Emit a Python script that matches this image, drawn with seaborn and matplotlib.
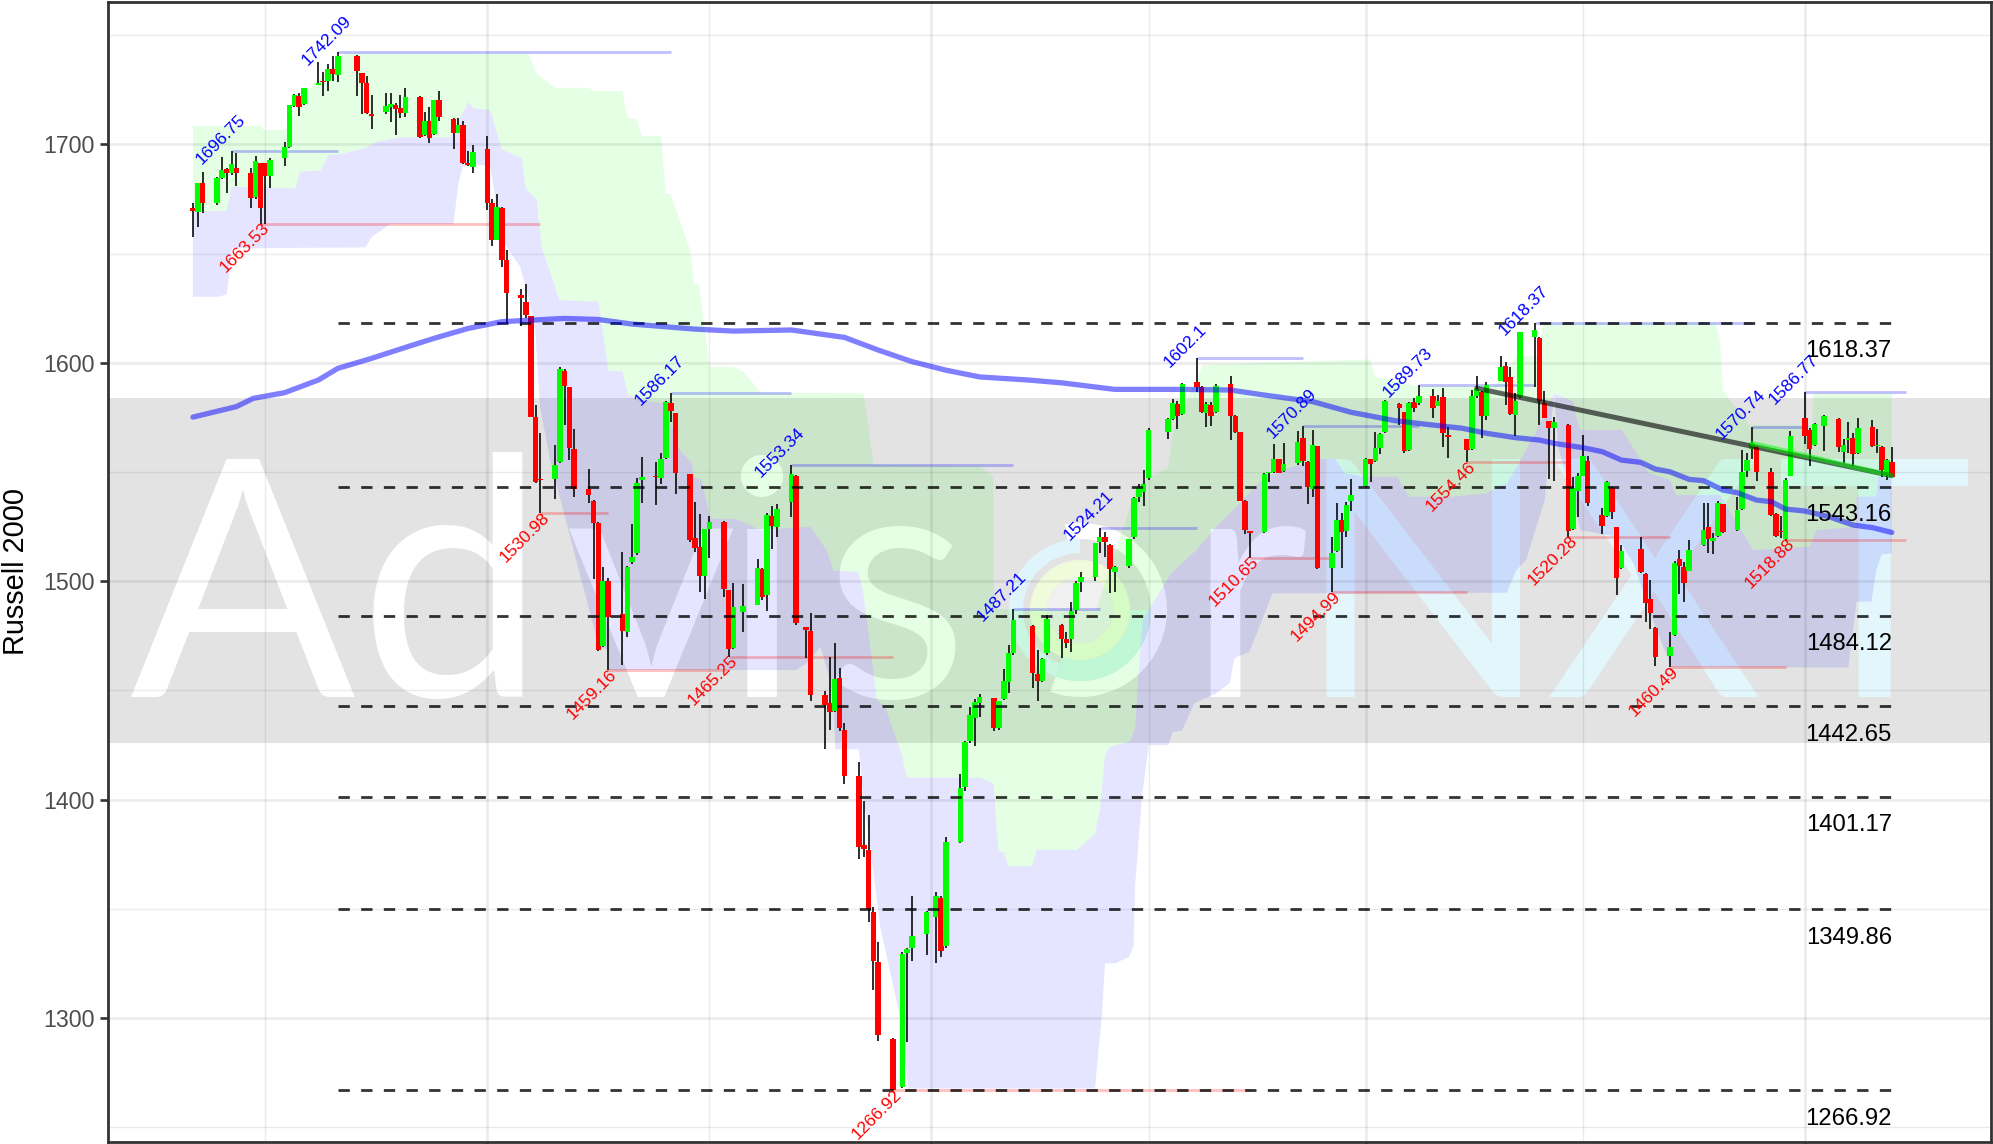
import matplotlib
matplotlib.use("Agg")
import matplotlib.pyplot as plt
from matplotlib.patches import Wedge
from matplotlib.transforms import IdentityTransform
import numpy as np
import pandas as pd
import seaborn as sns

HOLIDAYS = ['2018-09-03', '2018-11-22', '2018-12-05', '2018-12-25', '2019-01-01', '2019-01-21',
            '2019-02-18', '2019-04-19', '2019-05-27', '2019-07-04']
ORIGIN = pd.Timestamp('2018-10-01')

# one line per trading week, Aug 2018 - Jul 2019
opens = [
    1670.8, 1669, 1682.1,
    1673, 1684.7, 1688.7, 1686.7, 1689.3,
    1686.7, 1676, 1691.4, 1691.4, 1685.5,
    1693.9, 1698.9, 1717.5, 1722.1, 1718.5,
    1727.3, 1729, 1729, 1734.3, 1731.6,
    1740.6, 1732.5, 1727.9, 1713.9,
    1714.8, 1717.2, 1717.8, 1716.8, 1714.2,
    1721.7, 1704.3, 1710.8, 1704.7, 1720.1,
    1711.6, 1705.3, 1708.8, 1691.6, 1689.8,
    1697.7, 1673, 1656.2, 1671, 1647,
    1631, 1627.9, 1621.4, 1575, 1546.6,
    1546.7, 1554.4, 1596.3, 1588.7, 1560.5,
    1542.2, 1536.8, 1526.4, 1470.4, 1500,
    1484.9, 1476.8, 1508.7, 1512.7, 1546.1,
    1548.1, 1547, 1556.2, 1581.4, 1576.8,
    1548.9, 1519.7, 1515.8, 1502.5, 1523.8,
    1527.2, 1495.9, 1469.5, 1485.8,
    1489, 1505.4, 1493.6, 1529.8, 1524.9,
    1536.4, 1548.1, 1478.8, 1477.3,
    1448, 1444, 1440.5, 1455.5, 1431.8,
    1410.8, 1379.3, 1376.9, 1348.5, 1325.7,
    1290.3, 1268.2, 1329.7, 1332.1,
    1338.4, 1346, 1354.7, 1333,
    1380.7, 1405.9, 1426.9, 1437.2, 1444.3,
    1446.3, 1432.9, 1446, 1454, 1466.9,
    1479.6, 1457.5, 1454.3, 1466.9,
    1480, 1473.3, 1473.5, 1486.8, 1499.6,
    1502, 1518, 1520, 1516.5, 1504.3,
    1506.9, 1520, 1538.4, 1541, 1547,
    1568.4, 1574.2, 1581.1, 1576.4,
    1591.3, 1588.7, 1577.1, 1580.6, 1577.6,
    1590.1, 1575.6, 1568.3, 1536.7, 1522.6,
    1522.6, 1549.4, 1550, 1555.8, 1550.4,
    1553.9, 1565.4, 1554.7, 1542, 1561.9,
    1505.8, 1513.8, 1528, 1523, 1536.7,
    1543.5, 1555.8, 1555, 1561.1, 1568.4,
    1581.1, 1577.3, 1559.9, 1581.9, 1581.4,
    1584.9, 1580.2, 1584.2, 1566.9,
    1565.1, 1560.5, 1584.9, 1586.7, 1575.6,
    1591.8, 1598.5, 1593.3, 1576.1, 1584.5,
    1611.6, 1611.3, 1581.4, 1573.2, 1570.3,
    1571.5, 1523.7, 1541.4, 1548.3, 1555,
    1530.3, 1529.8, 1542.5, 1524.9, 1505.8,
    1514.9, 1503.3, 1491.6, 1478.4,
    1465.7, 1475.3, 1510, 1506.3, 1504.8,
    1516.5, 1524.9, 1518.5, 1520.6, 1535.3,
    1523.4, 1533, 1550.4, 1560.5, 1561.5,
    1549.8, 1530.6, 1523.1, 1519.3, 1548.3,
    1574.5, 1569.2, 1562.2, 1571.2,
    1574.1, 1559, 1564.8, 1565.4, 1558.5,
    1570.5, 1561.7, 1561.5, 1548.6, 1554.7,
]
highs = [
    1673, 1682.5, 1687.2,
    1685, 1694.4, 1689.3, 1696.75, 1695.9,
    1689, 1694.8, 1691.5, 1691.5, 1693.6,
    1700.9, 1718, 1723, 1723.3, 1726,
    1737.5, 1733.3, 1736.8, 1740.6, 1742.09,
    1740.8, 1732.7, 1731.3, 1722.6,
    1723.6, 1723.3, 1718.8, 1722.6, 1725.9,
    1722.1, 1715, 1716.9, 1720.5, 1724.4,
    1712, 1711.9, 1710.7, 1697, 1699.7,
    1703.8, 1674.8, 1677.1, 1671.2, 1651.6,
    1633.8, 1635.9, 1621.6, 1580.6, 1567.7,
    1562.3, 1597.9, 1597, 1589, 1569.6,
    1551.2, 1537, 1527, 1506.6, 1501.3,
    1513.2, 1507, 1526.1, 1547, 1557,
    1554.4, 1558.8, 1582.5, 1586.17, 1577,
    1549, 1536.4, 1530.6, 1524, 1529.8,
    1527.5, 1496, 1499.3, 1498.5,
    1510.1, 1506, 1531, 1534.5, 1535.1,
    1553.34, 1548.5, 1479, 1485.5,
    1449.8, 1465.4, 1471.5, 1460.4, 1435.2,
    1417, 1399.3, 1392.9, 1350.6, 1334.6,
    1290.6, 1330.3, 1332, 1356,
    1349, 1357.5, 1356, 1383,
    1411.7, 1427, 1442.2, 1446, 1448.1,
    1446.5, 1445.2, 1460, 1470.7, 1487.21,
    1480, 1468.4, 1465, 1484.5,
    1480.5, 1476.8, 1490.3, 1500, 1504.3,
    1517.5, 1524.21, 1522.6, 1516.8, 1507,
    1519.5, 1538.5, 1544.5, 1550.9, 1570,
    1574.5, 1583.2, 1582.6, 1590.5,
    1602.1, 1589.3, 1581.9, 1581.9, 1590.1,
    1594.1, 1576, 1568.5, 1537, 1523,
    1549.5, 1549.9, 1562.6, 1556, 1563.4,
    1568.7, 1570.89, 1555, 1569.2, 1562,
    1520.3, 1535.6, 1531, 1536.4, 1546.7,
    1556.2, 1556, 1568.4, 1568, 1583,
    1581.5, 1577.5, 1582, 1583.7, 1589.73,
    1588, 1585.2, 1588.6, 1570.7,
    1565.3, 1587.5, 1594.1, 1587, 1591,
    1603, 1600.2, 1598, 1586, 1614,
    1618.37, 1612, 1587.2, 1573.5, 1575,
    1572, 1547.8, 1549.7, 1566.9, 1557.3,
    1533.3, 1545.8, 1543, 1525, 1516.5,
    1520.3, 1503.5, 1500.5, 1479,
    1476.5, 1509, 1514.2, 1508.9, 1518.8,
    1535.6, 1536, 1521.9, 1536.5, 1535.5,
    1538.7, 1560, 1558.5, 1570.74, 1562,
    1551.6, 1531, 1530, 1547, 1568.7,
    1586.77, 1570, 1572.5, 1576,
    1574.5, 1564.9, 1572.7, 1567.7, 1574.5,
    1573.8, 1569.5, 1562, 1556, 1561.5,
]
lows = [
    1657.7, 1662.3, 1668.4,
    1672, 1684, 1677.9, 1686, 1680.9,
    1670.7, 1675, 1663.53, 1663.6, 1679.8,
    1690.2, 1698.5, 1717, 1713, 1718,
    1727, 1722.3, 1724.6, 1729, 1728.4,
    1722.3, 1713.7, 1714, 1706.9,
    1714, 1710.4, 1704.1, 1711.9, 1712.7,
    1702.7, 1704, 1700.4, 1704.5, 1710.8,
    1697.8, 1705, 1691, 1690, 1687,
    1669.9, 1653.4, 1656, 1643.7, 1618.3,
    1616.8, 1620.5, 1575, 1545, 1530.98,
    1537.4, 1554, 1571.5, 1555.4, 1538.7,
    1535.6, 1501, 1468, 1470, 1459.16,
    1461.6, 1474.5, 1508, 1512, 1535.9,
    1534.8, 1544.5, 1556, 1573, 1539.9,
    1518, 1513.5, 1494.8, 1491.6, 1510.4,
    1492.9, 1465.25, 1469, 1476.8,
    1489, 1491.3, 1486.5, 1514.5, 1520,
    1529.5, 1479.9, 1465, 1445,
    1423, 1431.8, 1440, 1431.5, 1407.1,
    1372.8, 1373.8, 1344, 1313, 1289.6,
    1266.92, 1268, 1289.1, 1326.2,
    1329, 1325, 1328, 1332,
    1380, 1404, 1426, 1424.6, 1437.6,
    1431.4, 1432, 1445.5, 1448.6, 1466,
    1451.2, 1445.1, 1454, 1466,
    1464.6, 1469.2, 1467.7, 1484.8, 1495.2,
    1500, 1512.7, 1511.2, 1494.4, 1495.2,
    1505.8, 1519.5, 1536.1, 1534.5, 1546.5,
    1564.9, 1574, 1569.5, 1576,
    1586.7, 1577, 1570.7, 1571.2, 1577,
    1564.6, 1568, 1536.5, 1521.6, 1510.65,
    1522, 1545.5, 1549.5, 1549.3, 1550.1,
    1553.2, 1552.7, 1535.3, 1538.7, 1505.5,
    1494.99, 1513.5, 1505.8, 1520, 1532.2,
    1543, 1545.5, 1554.5, 1558.2, 1568,
    1571.5, 1558.5, 1559.5, 1577.6, 1580.6,
    1574.8, 1580, 1561.6, 1556.2,
    1554.46, 1560, 1583.7, 1565.4, 1574,
    1591.5, 1580.6, 1576, 1566.6, 1584,
    1589, 1571.5, 1574.5, 1546.6, 1546,
    1520.28, 1523.5, 1529.5, 1548, 1534.4,
    1521.6, 1529.5, 1528.3, 1493.6, 1505.5,
    1503.5, 1481.4, 1478.1, 1461.3,
    1460.49, 1475, 1494, 1490.6, 1504.5,
    1516, 1513, 1512.4, 1520, 1522,
    1523, 1532.5, 1547.8, 1555.9, 1546,
    1530, 1520.3, 1519.6, 1518.88, 1548,
    1562.8, 1552.9, 1562, 1559.7,
    1559.3, 1554.2, 1558.5, 1552.7, 1558,
    1561.5, 1558.5, 1547.8, 1546.3, 1547.5,
]
closes = [
    1669.3, 1682.1, 1673.3,
    1684.4, 1688.2, 1687, 1691, 1686.7,
    1675.3, 1692.4, 1670.7, 1685.6, 1692.8,
    1698.6, 1717.8, 1722.6, 1717.2, 1725.6,
    1728.2, 1728.5, 1734.5, 1732.3, 1740.6,
    1733.6, 1727.9, 1714.2, 1713.1,
    1717.5, 1718.3, 1716, 1714.5, 1721.5,
    1703.5, 1710.8, 1703, 1720.1, 1712.4,
    1705.3, 1708.8, 1691.6, 1690.5, 1696.3,
    1673, 1656.2, 1671.1, 1647, 1632,
    1629.6, 1621.8, 1575.3, 1545.5, 1546.1,
    1553, 1597, 1589.5, 1560.8, 1542.2,
    1539.4, 1526.7, 1468.4, 1500.2, 1483.7,
    1477.3, 1506.6, 1511.2, 1544.8, 1547.8,
    1547.7, 1555.9, 1582, 1578, 1549.6,
    1518.8, 1515, 1502.5, 1523.8, 1527.2,
    1496.4, 1468.9, 1488, 1488.6,
    1505.8, 1492.9, 1530.3, 1525.4, 1533,
    1548.9, 1480.7, 1477.6, 1447.8,
    1443.4, 1440.2, 1455.2, 1432.6, 1410.8,
    1378.2, 1377.3, 1349.7, 1326, 1292.2,
    1267, 1329.5, 1331.7, 1337.6,
    1348.3, 1355.8, 1330.8, 1380.4,
    1405.1, 1426.5, 1438.7, 1444.8, 1447.1,
    1432.9, 1445, 1454.4, 1466.9, 1482.2,
    1457.8, 1454.4, 1464.3, 1482.6,
    1473.5, 1471.5, 1486.5, 1499.3, 1501.7,
    1517.3, 1520, 1517.9, 1505.5, 1506.3,
    1519.1, 1538.2, 1542.5, 1544.5, 1569.2,
    1574.2, 1581.4, 1575.6, 1590.1,
    1588.7, 1577.6, 1581.1, 1575.6, 1589.5,
    1575.6, 1568.4, 1536.8, 1523.4, 1522.2,
    1548.9, 1549.7, 1555.8, 1549.6, 1553.5,
    1563.8, 1555, 1543, 1562.3, 1505.8,
    1512.7, 1528, 1522.3, 1534.8, 1539.4,
    1555.8, 1553.5, 1560.8, 1567.4, 1582.5,
    1579.1, 1559.7, 1581.4, 1579.4, 1584.8,
    1579.4, 1582.6, 1567.7, 1565.8,
    1560, 1584.9, 1588, 1575.6, 1589.6,
    1598.2, 1591.3, 1576.4, 1582.5, 1613.9,
    1615, 1582.6, 1574.8, 1570.3, 1572.9,
    1523.1, 1542.5, 1548.1, 1557.3, 1535.6,
    1525.2, 1545.2, 1531.5, 1501.6, 1513.9,
    1504, 1490.1, 1485.5, 1465.4,
    1469.7, 1508.4, 1506.9, 1499.3, 1514.2,
    1523.4, 1519.1, 1519.7, 1535.9, 1522.3,
    1532.5, 1550.1, 1555.4, 1563.4, 1549.8,
    1530.3, 1520.8, 1522.3, 1546.3, 1566.4,
    1566.6, 1560.5, 1571.9, 1575.6,
    1561.5, 1562.3, 1565, 1558, 1569.9,
    1562, 1562, 1550.9, 1555.4, 1547.8,
]

# long moving average, days counted from 2018-10-01
sma_days = [-61, -52, -48.5, -42, -35, -31, -24, -17, -11, -4, 3, 16, 23, 30, 43, 51, 63, 74, 81, 88, 95, 102,
            112, 119, 130, 144, 154, 161, 171, 179, 188, 195, 202, 207, 213, 218, 221, 227, 231, 235, 239, 242,
            245, 249, 252, 256, 259, 263, 266, 269, 273, 278, 283, 287, 291]
sma_vals = [1575.1, 1579.9, 1583.7, 1586.3, 1592.1, 1597.4, 1602, 1607, 1611.2, 1615.7, 1618.8, 1620.3, 1619.8,
            1617.7, 1615.4, 1614.5, 1615, 1611.6, 1605.8, 1600.5, 1596.6, 1593.5, 1592.1, 1590.8, 1587.8, 1587.8,
            1587.5, 1585.2, 1582.2, 1577.3, 1573.5, 1571.7, 1570, 1567.7, 1565.7, 1564.6, 1563.1, 1561.1, 1559.3,
            1555.4, 1554.4, 1551.3, 1550.1, 1546.6, 1546, 1541.7, 1540.5, 1537.1, 1536.4, 1533, 1532.1, 1529.5,
            1525.7, 1524.5, 1522.3]

# cloud outlines: top of green, shared edge, bottom of blue
top_days = [-61, -46.7, -46.4, -42, -38, -30.5, -29.8, 8.5, 10.2, 14, 20.9, 22.3, 28, 29, 31, 32, 36, 37, 38, 42,
            42.9, 43.9, 46, 51, 53, 56.8, 77.9, 79, 80, 102, 104.8, 105, 126.2, 134.5, 136.6, 141, 142.1, 148.3,
            182.9, 184, 192.6, 208.5, 213.4, 217.5, 218.9, 254.4, 255.4, 256, 258, 261.6, 274.6, 274.7, 291]
top_vals = [1708.4, 1708.4, 1706.6, 1706.6, 1723.3, 1738.6, 1741.7, 1741.6, 1732.5, 1725.9, 1725.9, 1724.4, 1724.4,
            1712.2, 1711.4, 1703.8, 1703.8, 1677.5, 1677.2, 1651.6, 1636, 1635.6, 1598.2, 1597.9, 1595.9, 1586.3,
            1586, 1570.7, 1553.3, 1552.7, 1547.8, 1487.2, 1486.8, 1543.2, 1547, 1551.6, 1569.2, 1599, 1601.5,
            1593.6, 1589.3, 1589, 1602.8, 1603, 1618, 1618.3, 1610.4, 1587.5, 1581.4, 1571.5, 1571.5, 1586, 1586]

mid_days = [-61, -54, -53, -39.8, -38.8, -34.6, -32.9, -29.8, -25.3, -22.9, -18, -7.7, -3.9, -2.9, 0.6, 3, 7.1, 8,
            10.2, 11.3, 13.7, 14.9, 23, 25.1, 28, 29.2, 31.6, 36.5, 39.9, 42.4, 42.7, 44.4, 46.2, 51.7, 56.5, 66.9,
            70.3, 71.7, 76.9, 77.9, 79, 80.7, 82.4, 85.9, 86.9, 102.1, 104.9, 105.9, 107, 108, 112.9, 113.8, 122.1,
            125.9, 126.9, 128, 129, 133.2, 134.2, 135.1, 135.8, 141.7, 146.9, 151, 154.5, 160.8, 164.9, 171.8,
            175.6, 177.6, 181.6, 188.5, 190.9, 200.2, 207, 211.3, 213.7, 217.5, 221, 225.1, 225.4, 226.5, 235.1,
            240.6, 245.1, 246.3, 255.4, 262.3, 274, 275.4, 283.6, 283.7, 287.8, 288.2, 291]
mid_vals = [1669.2, 1669.6, 1680.6, 1679.8, 1687.5, 1688, 1695.1, 1695.9, 1698.2, 1701.2, 1703.2, 1703.2, 1719.5,
            1716.5, 1715.7, 1697.8, 1693.6, 1679.8, 1674.5, 1652.4, 1637.1, 1628.7, 1627.9, 1596.3, 1596, 1585.2,
            1583, 1581.4, 1560, 1553.9, 1547.8, 1546.3, 1528.7, 1528.3, 1523.4, 1524.9, 1514.2, 1504.8, 1504.3,
            1494.4, 1476, 1445.5, 1442.5, 1420.4, 1410, 1410, 1407.4, 1376.1, 1376.1, 1369.5, 1369.5, 1376.9,
            1376.9, 1384.2, 1395.2, 1420.4, 1424.2, 1426.5, 1432.6, 1463.9, 1482.2, 1503.6, 1514.2, 1524.9, 1532.6,
            1547, 1550.9, 1555.7, 1556.2, 1549.4, 1547.8, 1547.8, 1538.7, 1538.7, 1540.2, 1544.8, 1553.9, 1569.2,
            1586, 1582.2, 1576.8, 1569.2, 1569.2, 1549.5, 1546.3, 1539.4, 1539.4, 1514.2, 1515.8, 1523.4, 1524.8,
            1538.7, 1538.7, 1547.8, 1548.6]

low_days = [-61, -55.7, -54, -52.9, -25.3, -23.9, -20.1, -7, -6, -4.9, 0.6, 3, 6.8, 8.5, 9.9, 10.9, 13, 23.1, 25.1,
            25.2, 64, 66.5, 69, 71, 71.7, 72.1, 77, 77.9, 80, 81.4, 85.5, 87.2, 125.9, 127.3, 128, 130.1, 133, 133.9,
            134.2, 135.6, 137, 141.1, 142, 143.9, 146.5, 151, 153.8, 154.8, 157.9, 160, 162.7, 211.2, 213.2, 215.2,
            219.1, 221, 222, 224.4, 226.5, 234, 237.5, 241, 242, 245.4, 282, 283.7, 286.8, 287.8, 288.9, 291]
low_vals = [1630.2, 1630.2, 1631.3, 1652.4, 1652.8, 1657.7, 1663.5, 1663.5, 1682.1, 1691.3, 1690.1, 1656.2, 1644,
            1630.2, 1616.5, 1580, 1555.4, 1470, 1468.4, 1459.3, 1459.3, 1463, 1470, 1455, 1445.5, 1423, 1423, 1401.3,
            1366.2, 1341.8, 1300.5, 1267.7, 1267.7, 1300.5, 1325, 1325, 1328, 1332.9, 1360, 1399.8, 1424.9, 1424.9,
            1431, 1431.5, 1444.1, 1448.6, 1453.2, 1464.7, 1467.7, 1479.2, 1494.4, 1494.7, 1505.1, 1509.6, 1537.1,
            1586, 1560, 1543.2, 1523.4, 1520.3, 1508.1, 1485.2, 1479, 1460.8, 1460.4, 1490.6, 1490.6, 1505.1, 1512.2,
            1512.7]

fib_levels = [1618.37, 1543.16, 1484.12, 1442.65, 1401.17, 1349.86, 1266.92]
fib_labels = ['1618.37', '1543.16', '1484.12', '1442.65', '1401.17', '1349.86', '1266.92']

peak_dates = ['2018-08-09', '2018-08-31', '2018-11-08', '2018-12-03', '2019-01-18', '2019-02-05', '2019-02-25',
              '2019-03-19', '2019-04-12', '2019-05-06', '2019-06-20', '2019-07-01']
peak_vals = [1696.75, 1742.09, 1586.17, 1553.34, 1487.21, 1524.21, 1602.1, 1570.89, 1589.73, 1618.37, 1570.74, 1586.77]
trough_dates = ['2018-08-15', '2018-10-12', '2018-10-26', '2018-11-20', '2018-12-24', '2019-03-08', '2019-03-25',
                '2019-04-22', '2019-05-13', '2019-06-03', '2019-06-27']
trough_vals = [1663.53, 1530.98, 1459.16, 1465.25, 1266.92, 1510.65, 1494.99, 1554.46, 1520.28, 1460.49, 1518.88]
level_end = '2019-07-22'

trend_dates = ['2019-04-24', '2019-07-19']
trend_vals = [1588.3, 1548.3]
short_trend_dates = ['2019-06-20', '2019-07-19']
short_trend_vals = [1563.1, 1548.3]

# watermark letters: letter, centre x in px
white_letters = [('A', 243), ('d', 452), ('v', 650), ('i', 761), ('s', 896), ('r', 1247)]
cyan_letters = [('N', 1423), ('X', 1654), ('T', 1874)]

W, H = 1993, 1144


def to_dates(days):
    return ORIGIN + pd.to_timedelta(np.array(days, dtype=float), unit='D')


def draw_watermark(ax, fig):
    """Big AdvisorNXT text and the ring logo, under the clouds."""
    for letters, colour in [(white_letters, 'white'), (cyan_letters, '#e2f6fc')]:
        for letter, x in letters:
            ax.text(x / W, (H - 697) / H, letter, transform=fig.transFigure, color=colour, fontsize=240,
                    family='Lato', weight='normal', ha='center', va='baseline', zorder=1.2)
    centre = (1080, H - 610)
    rings = [(87, 71, 250, 100, 'white'), (71, 57, 90, 250, '#e0f5fb'), (71, 50, 250, 360, '#d6f8ee'),
             (50, 33, 0, 360, '#f0fbdc'), (33, 0, 0, 360, '#f0f0f0')]
    for outer, inner, a0, a1, colour in rings:
        ax.add_patch(Wedge(centre, outer, a0, a1, width=outer - inner, facecolor=colour, edgecolor='none',
                           transform=IdentityTransform(), zorder=1.3, clip_on=False))


def draw_grid(ax):
    for v in [1300, 1400, 1500, 1600, 1700]:
        ax.axhline(v, color='black', alpha=0.08, lw=1.9, zorder=1.6)
    for v in [1250, 1350, 1450, 1550, 1650, 1750]:
        ax.axhline(v, color='black', alpha=0.08, lw=1.0, zorder=1.6)
    for d in ['2018-10-01', '2019-01-01', '2019-04-01', '2019-07-01']:
        ax.axvline(pd.Timestamp(d), color='black', alpha=0.08, lw=1.9, zorder=1.6)
    for d in ['2018-08-16', '2018-11-16', '2019-02-15', '2019-05-16']:
        ax.axvline(pd.Timestamp(d), color='black', alpha=0.08, lw=1.0, zorder=1.6)


def draw_clouds(ax):
    green_x = list(to_dates(top_days)) + list(to_dates(mid_days))[::-1]
    green_y = top_vals + mid_vals[::-1]
    blue_x = list(to_dates(mid_days)) + list(to_dates(low_days))[::-1]
    blue_y = mid_vals + low_vals[::-1]
    ax.fill(green_x, green_y, color=(0, 1, 0, 0.1), lw=0, zorder=2)
    ax.fill(blue_x, blue_y, color=(0, 0, 1, 0.1), lw=0, zorder=2)


def draw_candles(ax, df):
    ax.vlines(df['date'], df['low'], df['high'], color='black', lw=1.15, zorder=3.5)
    up = df['close'] >= df['open']
    bottoms = df[['open', 'close']].min(axis=1)
    heights = (df['close'] - df['open']).abs().clip(lower=0.6)
    ax.bar(df['date'], heights, bottom=bottoms, width=1.15, color=np.where(up, '#00ff00', '#ff0000'), lw=0, zorder=4)


def draw_levels(ax, last_day):
    first_day = pd.Timestamp('2018-08-31')
    for level, label in zip(fib_levels, fib_labels):
        ax.plot([first_day, last_day], [level, level], color='black', alpha=0.8, lw=2,
                linestyle=(0, (4.08, 4.08)), dash_capstyle='butt', zorder=5)
        ax.annotate(label, (last_day, level), xytext=(0, -28.5 * 0.72), textcoords='offset points', ha='right',
                    va='center', fontsize=17.2, color='black', zorder=6)


def draw_swings(ax, dates, vals, colour, offset):
    ends = dates[1:] + [level_end]
    for start, end, v in zip(dates, ends, vals):
        ax.plot([pd.Timestamp(start), pd.Timestamp(end)], [v, v], color=colour, alpha=0.25, lw=2,
                solid_capstyle='butt', zorder=3)
        ax.annotate(f'{v:g}', (pd.Timestamp(start), v), xytext=offset, textcoords='offset points', rotation=45,
                    rotation_mode='anchor', ha='center', va='center', fontsize=12.5, color=colour, zorder=6)


def main():
    """Build the whole chart and save it."""
    sns.set_theme(style='white')
    plt.rcParams['font.family'] = ['Liberation Sans', 'DejaVu Sans']

    dates = pd.bdate_range('2018-08-01', '2019-07-19')
    dates = dates[~dates.isin(pd.to_datetime(HOLIDAYS))]
    df = pd.DataFrame({'date': dates, 'open': opens, 'high': highs, 'low': lows, 'close': closes})

    fig = plt.figure(figsize=(W / 100, H / 100), dpi=100)
    ax = fig.add_axes([108 / W, 1 - 1142 / H, (1990.7 - 108) / W, (1142 - 1.5) / H])
    ax.set_xlim(ORIGIN + pd.Timedelta(days=-78.6), ORIGIN + pd.Timedelta(days=311.5))
    ax.set_ylim(1243.2, 1765.4)

    ax.axhspan(1425.7, 1583.7, color='#e3e3e3', lw=0, zorder=1)
    draw_watermark(ax, fig)
    draw_grid(ax)
    draw_clouds(ax)
    draw_candles(ax, df)
    draw_levels(ax, dates[-1])

    draw_swings(ax, peak_dates, peak_vals, '#0000ff', (-11.3 * 0.72, 12.3 * 0.72))
    draw_swings(ax, trough_dates, trough_vals, '#ff0000', (-16 * 0.72, -24 * 0.72))

    sns.lineplot(x=to_dates(sma_days), y=sma_vals, ax=ax, color=(0, 0, 1, 0.5), lw=3.8, zorder=5.2, errorbar=None)
    sns.lineplot(x=pd.to_datetime(trend_dates), y=trend_vals, ax=ax, color=(0, 0, 0, 0.6), lw=3.6, zorder=5.3,
                 errorbar=None)
    sns.lineplot(x=pd.to_datetime(short_trend_dates), y=short_trend_vals, ax=ax, color=(0, 1, 0, 0.5), lw=3.6,
                 zorder=5.4, errorbar=None)

    ax.set_xticks(pd.to_datetime(['2018-10-01', '2019-01-01', '2019-04-01', '2019-07-01']))
    ax.set_xticklabels([])
    ax.set_yticks([1300, 1400, 1500, 1600, 1700])
    ax.tick_params(axis='both', length=5.8, width=1.9, color='#333333', left=True, bottom=True, pad=4)
    ax.tick_params(axis='y', labelsize=16.7, labelcolor='#4d4d4d')
    for spine in ax.spines.values():
        spine.set_color('#333333')
        spine.set_linewidth(2)
        spine.set_zorder(7)
    ax.set_xlabel('')
    ax.set_ylabel('Russell 2000', fontsize=20.8, color='black')
    ax.yaxis.set_label_coords((30 - 108) / (1990.7 - 108), 0.5)

    fig.savefig('out.png', dpi=100)


if __name__ == "__main__":
    main()
